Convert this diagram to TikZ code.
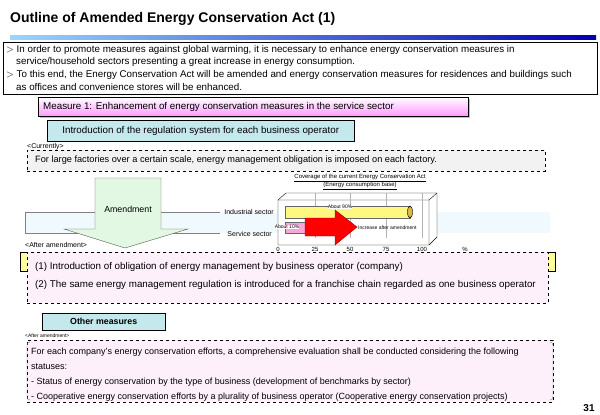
\documentclass[tikz,border=0pt]{standalone}
\usepackage{fontspec}
\setmainfont{Liberation Sans}
\usetikzlibrary{shadows}
\definecolor{cy}{HTML}{C5E8EC}
\definecolor{lg}{HTML}{E2F8E2}
\definecolor{pk}{HTML}{FDF0FA}
\definecolor{yl}{HTML}{FFFF99}
\tikzset{
 txt/.style={inner sep=0pt,anchor=west,font=\fontsize{9.8}{11}\selectfont},
 tiny/.style={inner sep=0pt,font=\fontsize{6}{7}\selectfont},
 lbl/.style={inner sep=0pt,font=\fontsize{7}{8}\selectfont},
 dbox/.style={draw,dashed,line width=0.5pt},
 btxt/.style={txt,font=\fontsize{9}{10}\selectfont},
}
\begin{document}
\begin{tikzpicture}[x=1pt,y=-1pt]
\useasboundingbox (0,0) rectangle (600,415);
\fill[white] (0,0) rectangle (600,415);
\node[inner sep=0pt,anchor=west,font=\bfseries\fontsize{14}{16}\selectfont] (title) at (10,19) {Outline of Amended Energy Conservation Act (1)};
\shade[left color=cyan!60!blue!40,right color=blue!70!black] (10,35) rectangle (596,39);
% top box
\node[draw,minimum width=594,minimum height=52,anchor=north west,inner sep=0pt] (top) at (3,42) {};
\node[txt] (t1) at (6,50) {$>$ In order to promote measures against global warming, it is necessary to enhance energy conservation measures in};
\node[txt] (t2) at (16,62) {service/household sectors presenting a great increase in energy consumption.};
\node[txt] (t3) at (6,75) {$>$ To this end, the Energy Conservation Act will be amended and energy conservation measures for residences and buildings such};
\node[txt] (t4) at (16,87) {as offices and convenience stores will be enhanced.};
% measure 1
\node[draw,anchor=north west,minimum width=430,minimum height=19,inner sep=0pt,top color=white,bottom color=magenta!40,drop shadow={shadow xshift=2pt,shadow yshift=-2pt}] (m1) at (38,97) {};
\node[txt] (m1t) at (43,106.5) {Measure 1: Enhancement of energy conservation measures in the service sector};
% intro
\node[draw,fill=cy,anchor=north west,minimum width=307,minimum height=21,inner sep=0pt,font=\fontsize{9.8}{11}\selectfont] (intro) at (47,120) {Introduction of the regulation system for each business operator};
\node[lbl,anchor=west] (cur) at (27,146.5) {<Currently>};
\node[dbox,fill=gray!10,anchor=north west,minimum width=518,minimum height=21,inner sep=0pt] (curbox) at (27,150) {};
\node[txt,font=\fontsize{9.2}{10}\selectfont] (curt) at (35,160.5) {For large factories over a certain scale, energy management obligation is imposed on each factory.};
% band
\fill[cyan!6] (25,212) rectangle (550,233);
\draw[gray] (25,233) -- (25,212) -- (220,212);
\draw[gray] (25,233) -- (220,233);
% amendment arrow
\node[inner sep=0pt] (amtip) at (125,248) {};
\draw[gray!70!black,fill=lg] (95,178) -- (161,178) -- (161,229) -- (188,229) -- (amtip.center) -- (64,229) -- (95,229) -- cycle;
\node[inner sep=0pt,font=\fontsize{8.8}{10}\selectfont] (am) at (128,209) {Amendment};
% chart
\node[lbl,anchor=east] (ind) at (274,212) {Industrial sector};
\node[lbl,anchor=east] (ser) at (272,234) {Service sector};
\node[tiny] (ct1) at (360,178) {\underline{Coverage of the current Energy Conservation Act}};
\node[tiny] (ct2) at (360,186) {\underline{(Energy consumption base)}};
\draw[fill=white] (278,200) -- (286,193) -- (437,193) -- (437,237) -- (429,245) -- (278,245) -- cycle;
\draw (278,200) -- (429,200) -- (429,245) (429,200) -- (437,193);
\foreach \x in {315,350,386,422} \draw[gray!60] (\x,193) -- (\x,238);
\draw[fill=yellow!50,draw=black!60] (285,206) rectangle (410,218);
\draw[fill=yellow!40!brown] (410,212) ellipse (2.5 and 6);
\node[tiny,fill=white,font=\fontsize{5}{6}\selectfont] (i90) at (340,207) {About 90\%};
\draw[fill=magenta!35,draw=black!60] (285,222) rectangle (305,233);
\node[tiny,fill=white,font=\fontsize{5}{6}\selectfont] (s10) at (287,227) {About 10\%};
\draw[fill=red,draw=red!60!black] (305,218) -- (335,218) -- (335,210) -- (357,227) -- (335,245) -- (335,236) -- (305,236) -- cycle;
\node[tiny,anchor=west,font=\fontsize{5}{6}\selectfont] (inc) at (358,228) {Increase after amendment};
\foreach \x/\v in {278/0,315/25,350/50,386/75,422/100} \node[tiny] at (\x,249) {\v};
\node[tiny] (pct) at (465,249) {\%};
\node[lbl,anchor=west] (aft) at (25,245) {<After amendment>};
% after box
\node[draw,fill=yl,anchor=north west,minimum width=535,minimum height=19,inner sep=0pt] (yb) at (20,252) {};
\node[dbox,fill=pk,anchor=north west,minimum width=521,minimum height=51,inner sep=0pt] (pb) at (27,252) {};
\node[txt] (p1) at (35,267) {(1) Introduction of obligation of energy management by business operator (company)};
\node[txt] (p2) at (35,285) {(2) The same energy management regulation is introduced for a franchise chain regarded as one business operator};
% other measures
\node[draw,fill=cy,anchor=north west,minimum width=123,minimum height=17,inner sep=0pt,font=\bfseries\fontsize{8.8}{10}\selectfont] (om) at (42,313) {Other measures};
\node[tiny,anchor=west,font=\fontsize{5}{6}\selectfont] (aft2) at (25,336) {<After amendment>};
\node[dbox,fill=pk,anchor=north west,minimum width=526,minimum height=62,inner sep=0pt] (bb) at (27,340) {};
\draw[rounded corners=3pt,gray] (30,342) -- (27,342) -- (27,400) -- (30,400);
\draw[rounded corners=3pt,gray] (550,342) -- (553,342) -- (553,400) -- (550,400);
\node[btxt] (b1) at (31,352) {For each company's energy conservation efforts, a comprehensive evaluation shall be conducted considering the following};
\node[btxt] (b2) at (31,367) {statuses:};
\node[btxt] (b3) at (31,382) {- Status of energy conservation by the type of business (development of benchmarks by sector)};
\node[btxt] (b4) at (31,397) {- Cooperative energy conservation efforts by a plurality of business operator (Cooperative energy conservation projects)};
\node[inner sep=0pt,font=\bfseries\fontsize{10}{11}\selectfont] (pg) at (589,408) {31};
\end{tikzpicture}
\end{document}
